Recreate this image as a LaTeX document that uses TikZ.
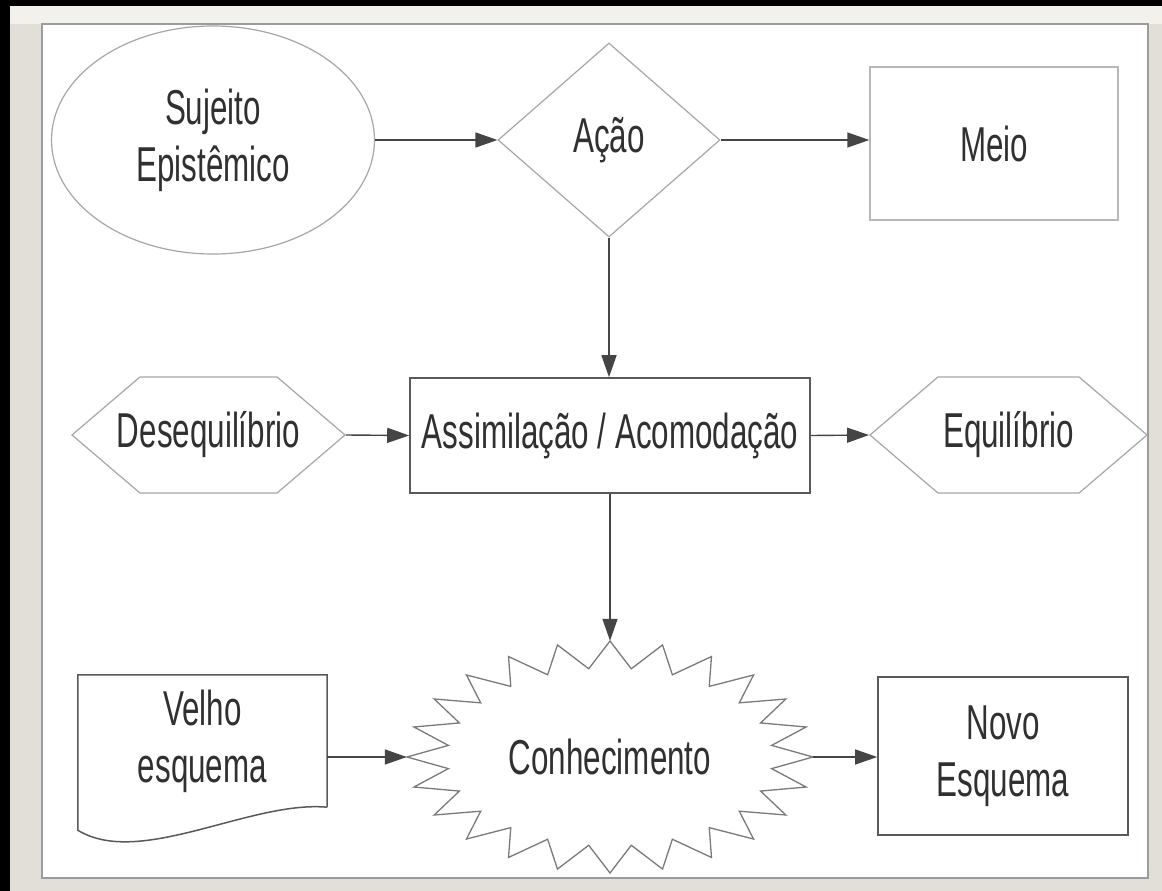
\documentclass[tikz,border=0pt]{standalone}
\usepackage{fontspec}
\setmainfont{Liberation Sans}[FakeStretch=0.64]
\usetikzlibrary{shapes.geometric,shapes.symbols,arrows.meta,calc}
\definecolor{txt}{HTML}{303030}
\definecolor{lnlight}{HTML}{A6A6A6}
\definecolor{lnmid}{HTML}{7A7A7A}
\definecolor{lndark}{HTML}{5A5A5A}
\definecolor{conn}{HTML}{454545}
\definecolor{beige}{HTML}{E2DFD8}
\definecolor{beigetop}{HTML}{F3F1EB}
\definecolor{panelline}{HTML}{9C9C9C}
\begin{document}
\begin{tikzpicture}[x=1pt,y=-1pt,
  lbl/.style={text=txt,font=\fontsize{49}{57}\selectfont,align=center,inner sep=0pt},
  arr/.style={draw=conn,line width=1.4pt,-{Triangle[length=22pt,width=15pt]}},
  lightshape/.style={lbl,draw=lnlight,line width=1.2pt},
  darkbox/.style={lbl,rectangle,draw=lndark,line width=1.6pt},
  hexa/.style={lightshape,signal,signal to=west and east,signal pointer angle=81,minimum height=116pt},
  starline/.style={draw=lnmid,line width=1.3pt}]
\useasboundingbox (0,0) rectangle (1162,891);
% background and panel
\fill[black] (0,0) rectangle (1162,891);
\fill[beige] (10,6) rectangle (1162,891);
\fill[beigetop] (10,6) rectangle (1162,24);
\fill[white] (42,24) rectangle (1148,878);
\draw[panelline,line width=2.2pt] (42,24) rectangle (1148,878);

% nodes
\node[lightshape,ellipse,minimum width=323pt,minimum height=228pt] (suj) at (213,140) {Sujeito\\Epistêmico};
\node[lightshape,diamond,minimum width=222pt,minimum height=194pt] (acao) at (609,140) {Ação};
\node[lbl,rectangle,draw=lnlight!80,line width=1.4pt,minimum width=248pt,minimum height=153pt] (meio) at (994,143.5) {Meio};
\node[darkbox,minimum width=400pt,minimum height=115pt] (assim) at (610,435.5) {Assimilação / Acomodação};
\node[hexa,inner xsep=-25pt,minimum width=273pt] (deseq) at (208.5,435) {Desequilíbrio};
\node[hexa,minimum width=277pt] (equil) at (1008.5,435) {Equilíbrio};
\node[lbl,ellipse,minimum width=406pt,minimum height=232pt] (conh) at (610,757) {Conhecimento};
\node[lbl,rectangle,minimum width=249pt,minimum height=132pt] (velho) at (202.5,741) {Velho\\esquema};
\node[darkbox,minimum width=250pt,minimum height=158pt] (novo) at (1003,756) {Novo\\Esquema};

% starburst outline of Conhecimento
\draw[starline] ([shift={(conh.center)}]0:203pt and 116pt)
  \foreach \i in {0,...,23} {
    -- ([shift={(conh.center)}]{15*\i+7.5}:163pt and 89pt)
    -- ([shift={(conh.center)}]{15*\i+15}:203pt and 116pt)
  } -- cycle;

% document outline of Velho esquema
\draw[lndark,line width=1.5pt] (velho.south east) -- (velho.north east) -- (velho.north west)
  -- ([yshift=-23pt]velho.south west)
  .. controls +(62pt,-38pt) and +(-77pt,7pt) .. (velho.south east);

% connectors
\draw[arr] (suj.east) -- (acao.west);
\draw[arr] (acao.east) -- (acao.east -| meio.west);
\draw[arr] (acao.south) -- (acao.south |- assim.north);
\draw[arr] (deseq.east) -- (assim.west);
\draw[arr] (assim.east) -- (equil.west);
\draw[arr] (assim.south) -- (conh.north);
\draw[arr] ([yshift=-16pt]velho.east) -- (conh.west);
\draw[arr] (conh.east) -- (conh.east -| novo.west);
\end{tikzpicture}
\end{document}
